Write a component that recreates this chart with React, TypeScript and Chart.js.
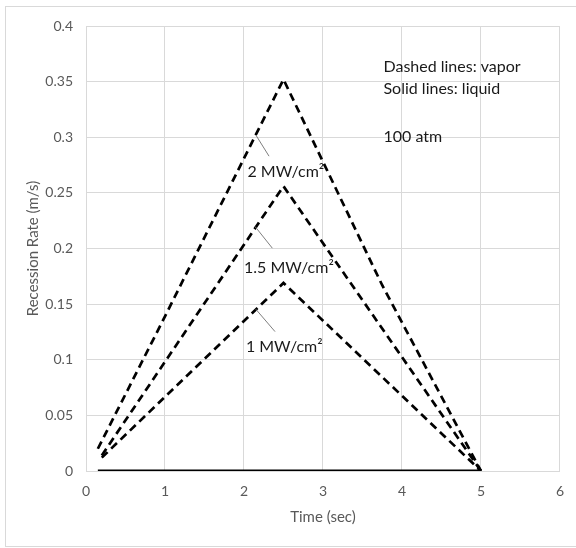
import React, { useEffect, useRef } from "react";
import { Chart, registerables } from "chart.js";

Chart.register(...registerables);

// Vapor recession rate (dashed), time in sec vs m/s
const vapor2X = [0.15, 1, 2.5, 3.75, 5];
const vapor2Y = [0.02, 0.139, 0.352, 0.167, 0];
const vapor15X = [0.2, 2.5, 5];
const vapor15Y = [0.014, 0.256, 0];
const vapor1X = [0.2, 2.5, 5];
const vapor1Y = [0.012, 0.169, 0];
// Liquid recession rate (solid)
const liquidX = [0.15, 5];
const liquidY = [0, 0];

const xTicks = [0, 1, 2, 3, 4, 5, 6];
const yTicks = [0, 0.05, 0.1, 0.15, 0.2, 0.25, 0.3, 0.35, 0.4];

const seriesLabels = ["2 MW/cm²", "1.5 MW/cm²", "1 MW/cm²"];
// label anchor (data coords) and leader line (from, to)
const labelPos = [
  { x: 2.044, y: 0.269 },
  { x: 2.0, y: 0.1826 },
  { x: 2.024, y: 0.1112 },
];
const leaderFrom = [
  { x: 2.15, y: 0.302 },
  { x: 2.141, y: 0.2197 },
  { x: 2.15, y: 0.1454 },
];
const leaderTo = [
  { x: 2.317, y: 0.283 },
  { x: 2.359, y: 0.2003 },
  { x: 2.393, y: 0.1253 },
];
const noteLines = ["Dashed lines: vapor", "Solid lines: liquid", "100 atm"];
const noteX = 3.766;
const noteY = [0.3633, 0.3435, 0.3004];

const FONT = "Lato, 'Open Sans', sans-serif";

const zip = (xs: number[], ys: number[]) => xs.map((x, i) => ({ x, y: ys[i] }));

const annotationPlugin = {
  id: "annotations",
  beforeDraw(chart: any) {
    const ctx = chart.ctx;
    ctx.save();
    ctx.fillStyle = "#ffffff";
    ctx.fillRect(0, 0, chart.width, chart.height);
    ctx.strokeStyle = "#d9d9d9";
    ctx.lineWidth = 1;
    ctx.strokeRect(5.5, 6.5, chart.width + 10, 540);
    ctx.restore();
  },
  afterDatasetsDraw(chart: any) {
    const ctx = chart.ctx;
    const xs = chart.scales.x;
    const ys = chart.scales.y;
    ctx.save();
    ctx.strokeStyle = "#7f7f7f";
    ctx.lineWidth = 1;
    for (let i = 0; i < leaderFrom.length; i++) {
      ctx.beginPath();
      ctx.moveTo(xs.getPixelForValue(leaderFrom[i].x), ys.getPixelForValue(leaderFrom[i].y));
      ctx.lineTo(xs.getPixelForValue(leaderTo[i].x), ys.getPixelForValue(leaderTo[i].y));
      ctx.stroke();
    }
    ctx.fillStyle = "#1a1a1a";
    ctx.textBaseline = "middle";
    ctx.textAlign = "left";
    ctx.font = `16px ${FONT}`;
    for (let i = 0; i < seriesLabels.length; i++) {
      ctx.fillText(seriesLabels[i], xs.getPixelForValue(labelPos[i].x), ys.getPixelForValue(labelPos[i].y));
    }
    for (let i = 0; i < noteLines.length; i++) {
      ctx.fillText(noteLines[i], xs.getPixelForValue(noteX), ys.getPixelForValue(noteY[i]));
    }
    ctx.restore();
  },
};

export default function App() {
  const ref = useRef<HTMLCanvasElement | null>(null);
  useEffect(() => {
    if (!ref.current) return;
    const dashed = (data: { x: number; y: number }[]) => ({
      data,
      borderColor: "#000000",
      borderWidth: 2.7,
      borderDash: [8, 5],
      pointRadius: 0,
      fill: false,
      tension: 0,
      showLine: true,
    });
    const chart = new Chart(ref.current, {
      type: "scatter",
      data: {
        datasets: [
          { label: "2 MW/cm² vapor", ...dashed(zip(vapor2X, vapor2Y)) },
          { label: "1.5 MW/cm² vapor", ...dashed(zip(vapor15X, vapor15Y)) },
          { label: "1 MW/cm² vapor", ...dashed(zip(vapor1X, vapor1Y)) },
          {
            label: "liquid",
            data: zip(liquidX, liquidY),
            borderColor: "#000000",
            borderWidth: 3,
            pointRadius: 0,
            showLine: true,
            fill: false,
          },
        ],
      },
      options: {
        animation: false,
        responsive: false,
        devicePixelRatio: 1,
        layout: { padding: { left: 0, top: 26, right: 13, bottom: 0 } },
        plugins: { legend: { display: false }, tooltip: { enabled: false } },
        scales: {
          x: {
            type: "linear",
            min: 0,
            max: 6,
            afterBuildTicks: (s: any) => {
              s.ticks = xTicks.map((v) => ({ value: v }));
            },
            afterFit: (s: any) => {
              s.height = 77;
            },
            grid: { color: "#d9d9d9", drawTicks: false, lineWidth: 1 },
            border: { color: "#d9d9d9" },
            ticks: { color: "#595959", font: { family: FONT, size: 14 }, padding: 12, maxRotation: 0 },
            title: {
              display: true,
              text: "Time (sec)",
              color: "#595959",
              font: { family: FONT, size: 15 },
              padding: { top: 0, bottom: 22 },
            },
          },
          y: {
            type: "linear",
            min: 0,
            max: 0.4,
            afterBuildTicks: (s: any) => {
              s.ticks = yTicks.map((v) => ({ value: v }));
            },
            afterFit: (s: any) => {
              s.width = 86;
            },
            grid: { color: "#d9d9d9", drawTicks: false, lineWidth: 1 },
            border: { color: "#d9d9d9" },
            ticks: {
              color: "#595959",
              font: { family: FONT, size: 14 },
              padding: 13,
              callback: (v: any) => String(Math.round(Number(v) * 100) / 100),
            },
            title: {
              display: true,
              text: "Recession Rate (m/s)",
              color: "#595959",
              font: { family: FONT, size: 15 },
              padding: { top: 24, bottom: 0 },
            },
          },
        },
      },
      plugins: [annotationPlugin],
    } as any);
    return () => chart.destroy();
  }, []);
  return (
    <div style={{ position: "fixed", left: 0, top: 0, width: 576, height: 548 }}>
      <canvas ref={ref} width={576} height={548} style={{ width: 576, height: 548, display: "block" }} />
    </div>
  );
}
